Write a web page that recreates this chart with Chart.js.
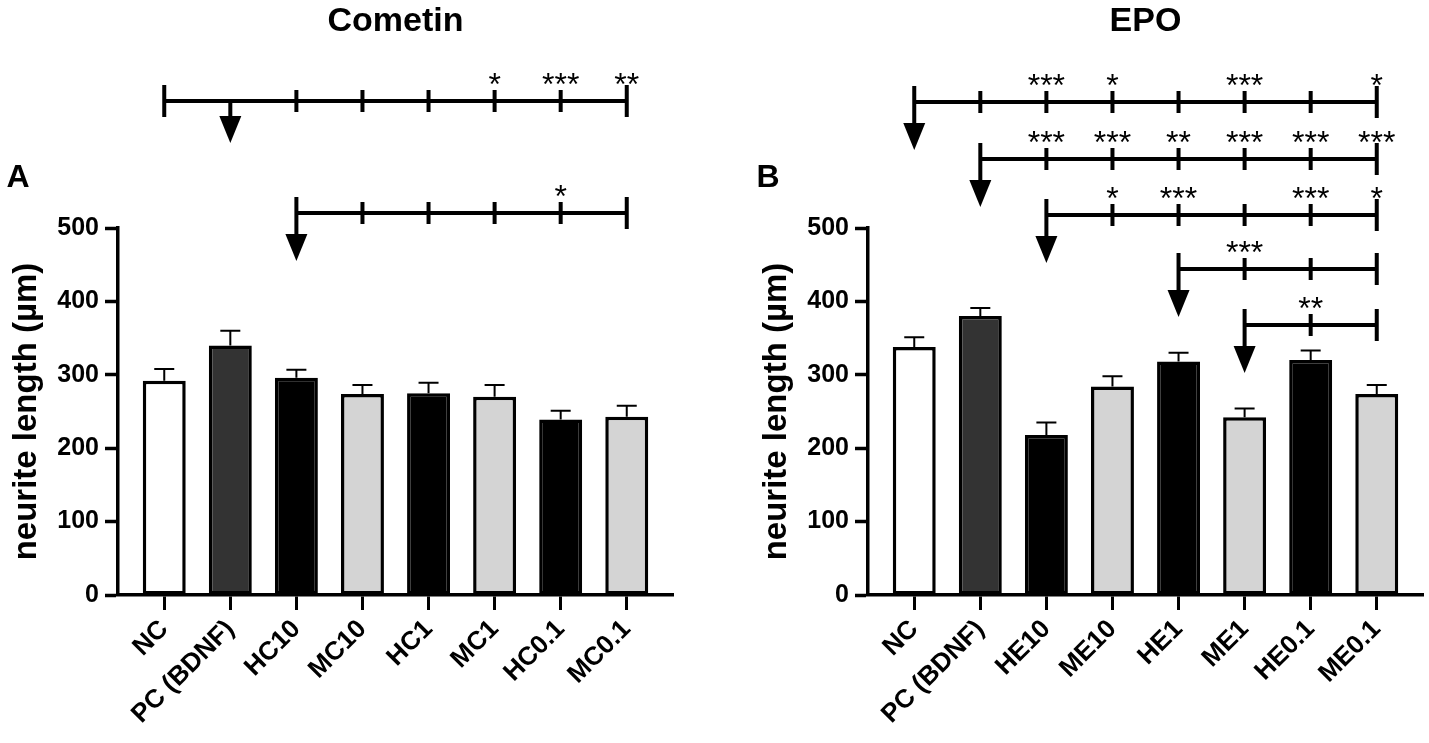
<!DOCTYPE html>
<html>
<head>
<meta charset="utf-8">
<script src="https://cdn.jsdelivr.net/npm/chart.js@4.4.1/dist/chart.umd.min.js"></script>
<style>
  body { margin: 0; background: #fff; overflow: hidden; }
  #wrap { position: relative; width: 1429px; height: 743px; }
  #chartA { position: absolute; left: 0; top: 0; }
  #chartB { position: absolute; left: 750px; top: 0; }
</style>
</head>
<body>
<div id="wrap">
  <canvas id="chartA" width="750" height="743"></canvas>
  <canvas id="chartB" width="679" height="743"></canvas>
</div>
<script>
// ---- data ----
var cometinLabels = ['NC', 'PC (BDNF)', 'HC10', 'MC10', 'HC1', 'MC1', 'HC0.1', 'MC0.1'];
var cometinMeans  = [292, 340, 296, 274, 275, 270, 239, 243];
var cometinErr    = [16, 20, 11, 12, 14, 16, 12, 15];

var epoLabels = ['NC', 'PC (BDNF)', 'HE10', 'ME10', 'HE1', 'ME1', 'HE0.1', 'ME0.1'];
var epoMeans  = [338, 380, 218, 284, 318, 242, 320, 274];
var epoErr    = [13, 11, 17, 14, 12, 12, 13, 12];

var yTicks = [0, 100, 200, 300, 400, 500];

// comparisons: bracket starts at "start", arrow marks the reference group, ends at the last group
var cometinCompare = [
  { start: 0, ref: 1, stars: ['', '', '', '', '', '*', '***', '**'] },
  { start: 2, ref: 2, stars: ['', '', '', '', '', '', '*', ''] }
];
var epoCompare = [
  { start: 0, ref: 0, stars: ['', '', '***', '*', '', '***', '', '*'] },
  { start: 1, ref: 1, stars: ['', '', '***', '***', '**', '***', '***', '***'] },
  { start: 2, ref: 2, stars: ['', '', '', '*', '***', '', '***', '*'] },
  { start: 4, ref: 4, stars: ['', '', '', '', '', '***', '', ''] },
  { start: 5, ref: 5, stars: ['', '', '', '', '', '', '**', ''] }
];

var barColors = ['#ffffff', '#333333', '#000000', '#d4d4d4', '#000000', '#d4d4d4', '#000000', '#d4d4d4'];

// pixel rows of the brackets (layout, not data)
var cometinRows = [101, 213];
var epoRows = [102, 159, 215, 269, 325];

Chart.defaults.font.family = "'Liberation Sans', Arial, sans-serif";
Chart.defaults.color = '#000';

function drawBracket(ctx, xs, c, y) {
  var last = xs.length - 1;
  ctx.strokeStyle = '#000';
  ctx.fillStyle = '#000';
  ctx.lineWidth = 4;
  ctx.lineCap = 'butt';
  ctx.beginPath();
  ctx.moveTo(xs[c.start], y);
  ctx.lineTo(xs[last], y);
  // end tick
  ctx.moveTo(xs[last], y - 16);
  ctx.lineTo(xs[last], y + 16);
  for (var i = c.start + 1; i < last; i++) {
    if (i === c.ref) continue;
    ctx.moveTo(xs[i], y - 11);
    ctx.lineTo(xs[i], y + 11);
  }
  var tip;
  if (c.ref === c.start) {
    tip = y + 48;
    ctx.moveTo(xs[c.ref], y - 16);
    ctx.lineTo(xs[c.ref], tip - 20);
  } else {
    ctx.moveTo(xs[c.start], y - 16);
    ctx.lineTo(xs[c.start], y + 16);
    tip = y + 42;
    ctx.moveTo(xs[c.ref], y);
    ctx.lineTo(xs[c.ref], tip - 20);
  }
  ctx.stroke();
  ctx.beginPath();
  ctx.moveTo(xs[c.ref] - 11, tip - 27);
  ctx.lineTo(xs[c.ref] + 11, tip - 27);
  ctx.lineTo(xs[c.ref], tip);
  ctx.closePath();
  ctx.fill();

  ctx.font = "32px 'Liberation Sans', Arial, sans-serif";
  ctx.textAlign = 'center';
  ctx.textBaseline = 'alphabetic';
  for (var k = 0; k < c.stars.length; k++) {
    if (c.stars[k]) ctx.fillText(c.stars[k], xs[k], y - 6);
  }
}

var extrasPlugin = {
  id: 'extras',
  afterDatasetsDraw: function (chart) {
    var ctx = chart.ctx;
    var meta = chart.getDatasetMeta(0);
    var yScale = chart.scales.y;
    var errs = chart.options.plugins.extras.errors;
    var means = chart.data.datasets[0].data;
    ctx.save();
    ctx.strokeStyle = '#000';
    ctx.lineWidth = 2;
    for (var i = 0; i < meta.data.length; i++) {
      var x = meta.data[i].x;
      var y0 = yScale.getPixelForValue(means[i].y);
      var y1 = yScale.getPixelForValue(means[i].y + errs[i]);
      ctx.beginPath();
      ctx.moveTo(x, y0);
      ctx.lineTo(x, y1);
      ctx.moveTo(x - 10, y1);
      ctx.lineTo(x + 10, y1);
      ctx.stroke();
    }
    ctx.restore();
  },
  afterDraw: function (chart) {
    var o = chart.options.plugins.extras;
    var ctx = chart.ctx;
    var xScale = chart.scales.x;
    var xs = [];
    for (var i = 0; i < 8; i++) xs.push(xScale.getPixelForValue(i));
    ctx.save();
    for (var j = 0; j < o.compare.length; j++) {
      drawBracket(ctx, xs, o.compare[j], o.rows[j]);
    }
    ctx.fillStyle = '#000';
    ctx.textAlign = 'center';
    ctx.textBaseline = 'middle';
    ctx.font = "bold 34px 'Liberation Sans', Arial, sans-serif";
    ctx.fillText(o.title, (chart.chartArea.left + chart.chartArea.right) / 2, 22);
    ctx.font = "bold 32px 'Liberation Sans', Arial, sans-serif";
    ctx.fillText(o.letter, 18, 178);
    ctx.restore();
  }
};

function makeChart(id, labels, means, errs, compare, rows, title, letter, padRight) {
  var points = means.map(function (v, i) { return { x: i, y: v }; });
  return new Chart(document.getElementById(id), {
    type: 'bar',
    data: {
      datasets: [{
        data: points,
        backgroundColor: barColors,
        borderColor: '#000',
        borderWidth: 3.5,
        borderSkipped: false,
        barPercentage: 0.65,
        categoryPercentage: 1
      }]
    },
    options: {
      responsive: false,
      animation: false,
      layout: { padding: { left: 0, top: 228, right: padRight, bottom: 0 } },
      plugins: {
        legend: { display: false },
        tooltip: { enabled: false },
        extras: { errors: errs, compare: compare, rows: rows, title: title, letter: letter }
      },
      scales: {
        x: {
          type: 'linear',
          offset: false,
          min: -0.7,
          max: 7.7,
          afterBuildTicks: function (s) {
            s.ticks = labels.map(function (l, i) { return { value: i }; });
          },
          afterFit: function (s) { s.height = 148; },
          border: { display: true, color: '#000', width: 3.5 },
          grid: { offset: false, drawOnChartArea: false, tickLength: 15, tickWidth: 3, tickColor: '#000' },
          ticks: {
            autoSkip: false,
            minRotation: 45,
            maxRotation: 45,
            padding: 4,
            font: { size: 26, weight: 'bold' },
            callback: function (v) { return labels[v]; }
          }
        },
        y: {
          min: 0,
          max: 500,
          afterBuildTicks: function (s) {
            s.ticks = yTicks.map(function (v) { return { value: v }; });
          },
          afterFit: function (s) { s.width = 118; },
          border: { display: true, color: '#000', width: 3.5 },
          grid: { drawOnChartArea: false, tickLength: 13, tickWidth: 3.5, tickColor: '#000' },
          ticks: { padding: 6, font: { size: 25, weight: 'bold' } },
          title: {
            display: true,
            text: 'neurite length (µm)',
            font: { size: 33, weight: 'bold' },
            padding: { top: 7, bottom: 0 }
          }
        }
      }
    },
    plugins: [extrasPlugin]
  });
}

makeChart('chartA', cometinLabels, cometinMeans, cometinErr, cometinCompare, cometinRows, 'Cometin', 'A', 77);
makeChart('chartB', epoLabels, epoMeans, epoErr, epoCompare, epoRows, 'EPO', 'B', 6);
</script>
</body>
</html>
